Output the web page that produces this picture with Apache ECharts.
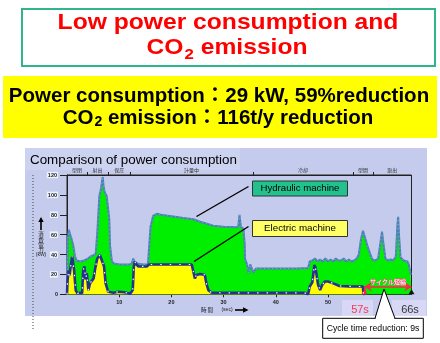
<!DOCTYPE html>
<html><head><meta charset="utf-8">
<script src="https://cdn.jsdelivr.net/npm/echarts@6/dist/echarts.min.js"></script>
<style>html,body{margin:0;padding:0;background:#fff}#c{width:440px;height:343px}</style>
</head><body><div id="c"></div>
<script>
// ---- data (kW vs. seconds) ----
const hydTime = [0,0.15,0.35,0.6,0.9,1.2,1.5,1.8,2.5,3.3,4.0,4.5,5.0,5.5,5.8,6.2,6.5,6.7,6.85,7.0,7.2,7.6,7.9,8.1,8.25,8.6,9.0,10,11,12.0,12.4,12.7,13.0,13.5,14.5,15.5,15.8,16.0,16.5,17.2,18,20,22,24.2,25.5,26.5,26.8,28,30,32.8,33.05,33.3,33.8,34.05,34.1,34.5,34.8,35.1,35.4,35.7,36.2,38,40,42,44,46.2,46.5,47.0,47.5,48,48.5,49,49.5,50,50.5,51,51.5,52,52.5,53,53.5,54,54.5,55,55.5,55.9,56.3,56.7,56.9,57.2,57.6,58.0,58.5,59.0,59.6,60.0,60.35,60.6,61.0,61.5,62.0,62.5,63.0,63.3,63.45,63.6,63.9,64.5,65.2,65.5,65.8,66];
const hydKW = [0,55,65,60,55,49,39,34,33,34,36,38,39,41,62,99,106,113,118,109,103,99,97,76,49,33,31,30,30,30,31,36,32,31,30,30,31,68,79,81,80,78.5,77,75.5,73,71.5,69.5,69,68,67.5,80,68,66,50,36,30,21,30,32,22,26,26,26,26,26,26.5,33,34,36,33,35,33,36,33,35,33,36,34,34,36,33,35,33,34,36,40,55,64,65,55,48,42,35,34,36,50,63,52,36,34,35,34,38,70,78,60,37,34,33,30,21,20];
const eleTime = [0,0.1,0.3,0.5,0.75,1.0,1.1,1.36,1.67,2.0,2.5,2.9,3.1,3.35,3.55,3.8,4.1,4.4,4.75,5.1,5.4,5.8,6.3,6.6,7.1,7.4,7.9,8.9,9.8,11.0,12.1,12.6,12.8,13.0,13.3,13.7,15.3,15.7,16.2,20,23.9,24.2,24.5,24.8,25.5,26.4,26.7,27.1,27.7,30,35,40,45.5,46.2,46.5,47.0,47.4,47.6,47.8,48.1,48.5,48.9,49.4,50,51,52.2,54,56.7,56.8,57];
const eleKW = [0,13,24,19,30,38,36,24,4,1,1.5,1,24,28,15,21,4,11,12.5,16,26,36,39.5,38,28,11,2.5,1.6,2.6,2,0.6,4.4,28,33,30,28,28,30,30,30,30,23,16,19.5,20.5,19.5,11,4,1.6,1.5,1.5,1.5,1.5,0,7.8,12,29.5,27,29,9.5,4.4,9.5,12.8,12.8,11,8.4,8,7.8,0,0];
const xTickLabels = [10,20,30,40,50];
const phaseBounds = [0,3.8,7.9,12.1,35.6,54.8,58.6,66];
const phaseNames = ['型閉','射出','保圧','計量中','冷却','型開','取出'];
const cycleElectric = 57, cycleHydraulic = 66;
const arrowLevel = 7.6;

const hydData = hydTime.map((t,i)=>[t,hydKW[i]]);
const eleData = eleTime.map((t,i)=>[t,eleKW[i]]);
const phaseMids = phaseNames.map((n,i)=>(phaseBounds[i]+phaseBounds[i+1])/2);

const F = '"Liberation Sans", Arial, "Noto Sans CJK JP", sans-serif';
const J = '"Noto Sans CJK JP", sans-serif';
const chart = echarts.init(document.getElementById('c'), null, {renderer:'canvas'});

function txt(x,y,text,o){
  return Object.assign({type:'text', x:x, y:y, z:100, silent:true,
    style:Object.assign({text:text, fill:'#000', fontFamily:F, fontSize:10,
      align:'center', verticalAlign:'middle', textAlign:'center', textVerticalAlign:'middle'}, o.style||{})}, o.el||{});
}

const graphics = [
  // top title box
  {type:'rect', z:1, shape:{x:22,y:9,width:413,height:57}, style:{fill:'#fff', stroke:'#2fb58a', lineWidth:2}},
  txt(228,23,'Low power consumption and',{el:{scaleX:1.12}, style:{fill:'#ff0000', fontSize:22, fontWeight:'bold'}}),
  txt(227,48,'{a|CO}{s|2}{a| emission}',{el:{scaleX:1.12}, style:{fill:'#ff0000', rich:{
      a:{fill:'#ff0000', fontSize:22, fontWeight:'bold', fontFamily:F},
      s:{fill:'#ff0000', fontSize:15, fontWeight:'bold', fontFamily:F, padding:[13,0,0,1]}}}}),
  // yellow box
  {type:'rect', z:1, shape:{x:3,y:76,width:434,height:62}, style:{fill:'#ffff00'}},
  txt(219,96,'Power consumption：29 kW, 59%reduction',{style:{fontSize:20.5, fontWeight:'bold'}}),
  txt(218,118,'{a|CO}{s|2}{a| emission：116t/y reduction}',{style:{rich:{
      a:{fill:'#000', fontSize:20.5, fontWeight:'bold', fontFamily:F},
      s:{fill:'#000', fontSize:14, fontWeight:'bold', fontFamily:F, padding:[8,0,0,1]}}}}),
  // chart panel
  {type:'rect', z:-10, shape:{x:25,y:148,width:402,height:168}, style:{fill:'#c4cbec'}},
  {type:'rect', z:-9, shape:{x:25,y:148,width:215,height:22}, style:{fill:'#ccd3f1'}},
  txt(30,160,'Comparison of power consumption',{style:{fontSize:13.4, align:'left', textAlign:'left'}}),
  {type:'line', z:100, shape:{x1:33,y1:175,x2:33,y2:330}, style:{stroke:'#444', lineWidth:1, lineDash:[1,2]}},
  // y axis name
  {type:'line', z:100, shape:{x1:41,y1:230,x2:41,y2:221}, style:{stroke:'#000', lineWidth:1.6}},
  {type:'polygon', z:100, shape:{points:[[38.3,222],[41,217],[43.7,222]]}, style:{fill:'#000'}},
  txt(41,234,'消',{style:{fontSize:5.5, fontFamily:J, fill:'#222'}}),
  txt(41,239.5,'費',{style:{fontSize:5.5, fontFamily:J, fill:'#222'}}),
  txt(41,244.5,'電',{style:{fontSize:5.5, fontFamily:J, fill:'#222'}}),
  txt(41,249.5,'力',{style:{fontSize:5.5, fontFamily:J, fill:'#222'}}),
  txt(41,255,'(kW)',{style:{fontSize:5, fill:'#222'}}),
  // x axis name
  txt(207,310,'時 間',{style:{fontSize:5.5, fontFamily:J, fill:'#222'}}),
  txt(227,310,'(sec)',{style:{fontSize:5, fill:'#222'}}),
  {type:'line', z:100, shape:{x1:235,y1:310,x2:244,y2:310}, style:{stroke:'#000', lineWidth:1.6}},
  {type:'polygon', z:100, shape:{points:[[243,307.3],[248.5,310],[243,312.7]]}, style:{fill:'#000'}},
  // machine labels
  {type:'rect', z:100, shape:{x:252.5,y:181,width:95,height:15}, style:{fill:'#22c28e', stroke:'#333', lineWidth:1}},
  txt(300,188.5,'Hydraulic machine',{style:{fontSize:9.6}}),
  {type:'line', z:100, shape:{x1:248.5,y1:186.5,x2:196.5,y2:216.5}, style:{stroke:'#000', lineWidth:1.4}},
  {type:'rect', z:100, shape:{x:252.5,y:220.5,width:95,height:16}, style:{fill:'#ffff66', stroke:'#333', lineWidth:1}},
  txt(300,228.5,'Electric machine',{style:{fontSize:9.8}}),
  {type:'line', z:100, shape:{x1:248.5,y1:226.5,x2:194,y2:261.5}, style:{stroke:'#000', lineWidth:1.4}},
  // 57s / 66s
  {type:'rect', z:100, shape:{x:342,y:300,width:31,height:16}, style:{fill:'#d8d8f6'}},
  txt(360,310,'57s',{style:{fontSize:11, fill:'#f03a50'}}),
  {type:'rect', z:100, shape:{x:392,y:300,width:34,height:16}, style:{fill:'#d8d8f6'}},
  txt(410,310,'66s',{style:{fontSize:11, fill:'#333'}}),
  // callout
  {type:'rect', z:100, shape:{x:322.7,y:318.3,width:100.6,height:20}, style:{fill:'#fff', stroke:'#000', lineWidth:1}},
  {type:'polygon', z:101, shape:{points:[[375.5,319],[384,289],[394.5,319]]}, style:{fill:'#fff'}},
  {type:'polyline', z:102, shape:{points:[[375,318.3],[384,289],[395,318.3]]}, style:{stroke:'#000', lineWidth:1, fill:null}},
  txt(373,329,'Cycle time reduction: 9s',{style:{fontSize:8.7}})
];

const option = {
  animation:false,
  backgroundColor:'#fff',
  grid:{left:67, right:28.5, top:175, bottom:48.7, show:true, borderColor:'#222', borderWidth:1, backgroundColor:'transparent', outerBoundsMode:'none', containLabel:false},
  xAxis:[{
    type:'value', min:0, max:66, interval:10, position:'bottom',
    axisLine:{show:true, onZero:false, lineStyle:{color:'#222', width:1}},
    axisTick:{show:true, length:3, customValues:xTickLabels, lineStyle:{color:'#222'}},
    axisLabel:{show:true, customValues:xTickLabels, fontSize:5.5, fontWeight:'bold', color:'#222', margin:5, fontFamily:F,
      formatter:v=> xTickLabels.indexOf(v)>=0 ? String(v) : ''},
    splitLine:{show:false}
  },{
    type:'value', min:0, max:66, position:'top',
    axisLine:{show:true, onZero:false, lineStyle:{color:'#222', width:1}},
    axisTick:{show:true, length:3, customValues:phaseBounds.slice(1,-1), lineStyle:{color:'#222'}},
    axisLabel:{show:true, customValues:phaseMids, fontSize:5, color:'#333', margin:2, fontFamily:J,
      formatter:v=>{ const i = phaseMids.findIndex(m=>Math.abs(m-v)<1e-6); return i>=0 ? phaseNames[i] : ''; }},
    splitLine:{show:false}
  }],
  yAxis:{
    type:'value', min:0, max:120, interval:20,
    axisLine:{show:true, lineStyle:{color:'#222', width:1}},
    axisTick:{show:true, length:7, lineStyle:{color:'#222'}},
    axisLabel:{margin:9, fontSize:5.5, fontWeight:'bold', color:'#222', fontFamily:F,
      formatter:v=> v===0 ? '{z|0}' : '{b|'+v+'}',
      rich:{b:{backgroundColor:'#eef2fc', padding:[1,1,0,1], fontSize:5.5, fontWeight:'bold', color:'#222', fontFamily:F},
            z:{fontSize:5.5, fontWeight:'bold', color:'#222', fontFamily:F}}},
    splitLine:{show:false}
  },
  series:[
    {type:'line', name:'Hydraulic machine', data:hydData, symbol:'none', z:2,
      lineStyle:{color:'#4d82b4', width:2}, areaStyle:{color:'#00ee00', opacity:1}},
    {type:'line', data:hydData, symbol:'none', z:3, silent:true,
      lineStyle:{color:'#93bde3', width:0.7, type:[1,3]}},
    {type:'line', name:'Electric machine', data:eleData, symbol:'none', z:4,
      lineStyle:{color:'#28318c', width:2.6}, areaStyle:{color:'#ffff00', opacity:1}},
    {type:'line', data:eleData, symbol:'none', z:5, silent:true,
      lineStyle:{color:'#f4f4ff', width:1.2, type:[1.5,8]},
      markLine:{silent:true, animation:false, symbol:['arrow','arrow'], symbolSize:7,
        lineStyle:{color:'#ff2448', width:1.6, type:'solid'},
        label:{show:true, position:'middle', formatter:'サイクル短縮', color:'#ffffff', fontSize:6, fontFamily:J,
          textBorderColor:'#f05878', textBorderWidth:1, distance:2},
        data:[[{coord:[cycleElectric,arrowLevel]},{coord:[cycleHydraulic,arrowLevel]}],
              [{coord:[cycleElectric,0], symbol:'none', label:{show:false}},{coord:[cycleElectric,arrowLevel], symbol:'none'}]]},
      markPoint:{silent:true, animation:false, symbol:'triangle', symbolSize:[6,5], symbolOffset:[0,-2.5], label:{show:false},
        data:[{coord:[cycleElectric,0], itemStyle:{color:'#ff2448'}},{coord:[cycleHydraulic,0], itemStyle:{color:'#111'}}]}
    }
  ],
  graphic:{elements:graphics}
};
chart.setOption(option);
</script></body></html>
